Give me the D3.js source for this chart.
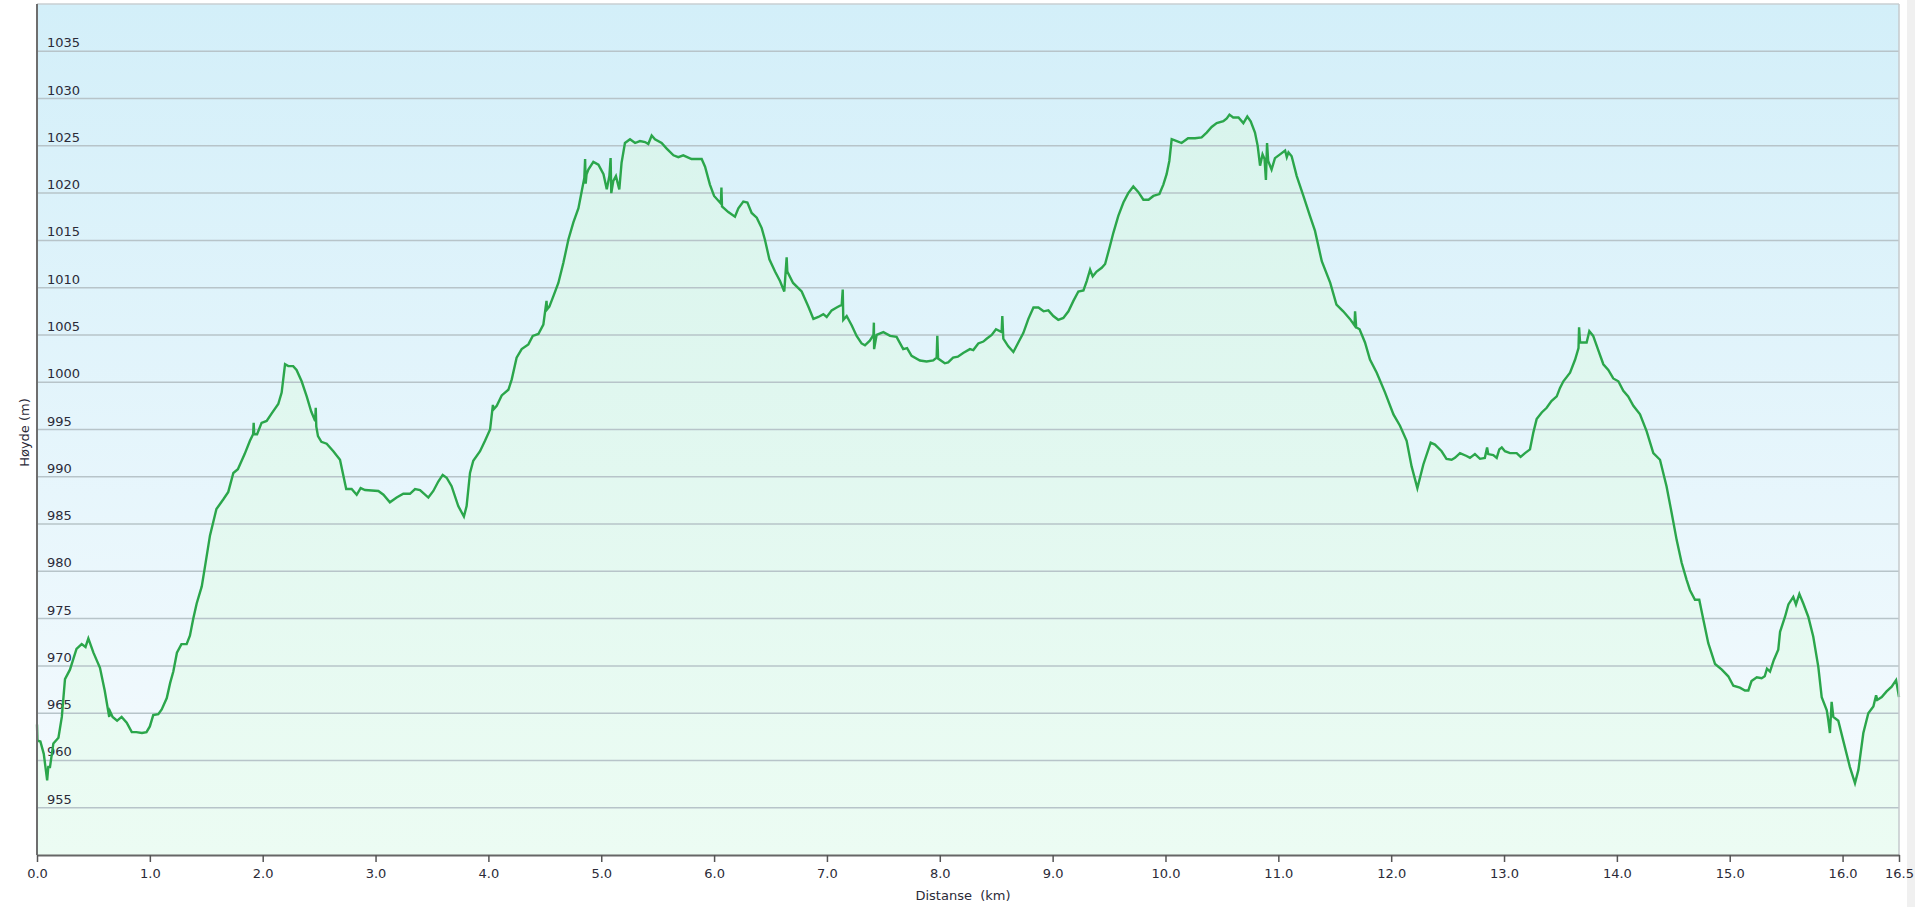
<!DOCTYPE html>
<html>
<head>
<meta charset="utf-8">
<script src="https://cdn.jsdelivr.net/npm/d3@7/dist/d3.min.js"></script>
<style>
  html, body { margin: 0; padding: 0; background: #ffffff; }
  svg { display: block; }
  text { font-family: "DejaVu Sans", Verdana, sans-serif; }
</style>
</head>
<body>
<svg id="chart" width="1915" height="907"></svg>
<script>
// ---- DATA ----
const distKm = [
  0.000, 0.004, 0.030, 0.060, 0.090, 0.100, 0.115, 0.145, 0.190, 0.220,
  0.248, 0.292, 0.350, 0.396, 0.430, 0.455, 0.500, 0.558, 0.600, 0.640,
  0.647, 0.670, 0.710, 0.750, 0.795, 0.840, 0.880, 0.930, 0.970, 1.000,
  1.030, 1.075, 1.105, 1.150, 1.180, 1.208, 1.240, 1.280, 1.326, 1.355,
  1.385, 1.415, 1.460, 1.490, 1.533, 1.590, 1.650, 1.695, 1.740, 1.780,
  1.840, 1.887, 1.915, 1.920, 1.925, 1.950, 1.990, 2.035, 2.080, 2.138,
  2.168, 2.198, 2.227, 2.270, 2.300, 2.345, 2.390, 2.430, 2.465, 2.470,
  2.475, 2.490, 2.520, 2.567, 2.626, 2.685, 2.740, 2.788, 2.833, 2.868,
  2.907, 3.025, 3.070, 3.127, 3.187, 3.246, 3.305, 3.350, 3.394, 3.468,
  3.512, 3.556, 3.595, 3.630, 3.674, 3.733, 3.783, 3.807, 3.837, 3.866,
  3.926, 3.970, 4.015, 4.040, 4.044, 4.074, 4.118, 4.177, 4.207, 4.250,
  4.295, 4.354, 4.393, 4.443, 4.487, 4.515, 4.520, 4.540, 4.576, 4.620,
  4.664, 4.709, 4.753, 4.798, 4.827, 4.850, 4.857, 4.862, 4.870, 4.886,
  4.930, 4.975, 5.020, 5.049, 5.072, 5.083, 5.089, 5.107, 5.130, 5.160,
  5.180, 5.210, 5.255, 5.300, 5.343, 5.388, 5.417, 5.447, 5.476, 5.535,
  5.580, 5.640, 5.683, 5.727, 5.800, 5.845, 5.890, 5.920, 5.963, 6.000,
  6.060, 6.065, 6.070, 6.126, 6.185, 6.215, 6.259, 6.295, 6.333, 6.378,
  6.422, 6.450, 6.490, 6.540, 6.584, 6.622, 6.643, 6.649, 6.700, 6.776,
  6.835, 6.880, 6.924, 6.968, 6.998, 7.042, 7.086, 7.131, 7.140, 7.145,
  7.175, 7.220, 7.263, 7.307, 7.337, 7.380, 7.412, 7.416, 7.418, 7.440,
  7.500, 7.560, 7.617, 7.676, 7.710, 7.750, 7.824, 7.883, 7.942, 7.972,
  7.978, 7.985, 8.044, 8.074, 8.118, 8.160, 8.207, 8.267, 8.297, 8.341,
  8.386, 8.415, 8.460, 8.498, 8.548, 8.554, 8.563, 8.607, 8.652, 8.696,
  8.740, 8.785, 8.830, 8.874, 8.920, 8.962, 9.006, 9.050, 9.095, 9.140,
  9.184, 9.228, 9.273, 9.302, 9.332, 9.355, 9.390, 9.435, 9.465, 9.508,
  9.538, 9.582, 9.627, 9.670, 9.715, 9.760, 9.804, 9.850, 9.893, 9.946,
  9.981, 10.010, 10.034, 10.055, 10.100, 10.143, 10.200, 10.262, 10.320, 10.365,
  10.409, 10.454, 10.513, 10.543, 10.567, 10.600, 10.647, 10.690, 10.725, 10.755,
  10.793, 10.817, 10.838, 10.860, 10.878, 10.890, 10.900, 10.910, 10.940, 10.970,
  11.015, 11.060, 11.075, 11.090, 11.118, 11.163, 11.222, 11.280, 11.325, 11.385,
  11.460, 11.515, 11.575, 11.634, 11.675, 11.680, 11.690, 11.720, 11.768, 11.812,
  11.872, 11.946, 12.020, 12.078, 12.137, 12.181, 12.232, 12.285, 12.350, 12.388,
  12.447, 12.490, 12.536, 12.565, 12.610, 12.668, 12.698, 12.742, 12.787, 12.830,
  12.850, 12.860, 12.905, 12.935, 12.958, 12.980, 13.008, 13.053, 13.112, 13.147,
  13.186, 13.230, 13.260, 13.289, 13.334, 13.378, 13.420, 13.467, 13.496, 13.526,
  13.585, 13.630, 13.660, 13.665, 13.674, 13.718, 13.732, 13.756, 13.790, 13.835,
  13.880, 13.924, 13.968, 14.013, 14.057, 14.100, 14.146, 14.205, 14.264, 14.323,
  14.382, 14.440, 14.485, 14.530, 14.574, 14.618, 14.648, 14.692, 14.730, 14.766,
  14.810, 14.870, 14.930, 14.987, 15.032, 15.090, 15.135, 15.165, 15.193, 15.240,
  15.283, 15.310, 15.330, 15.357, 15.390, 15.430, 15.446, 15.490, 15.520, 15.563,
  15.587, 15.617, 15.652, 15.696, 15.740, 15.785, 15.815, 15.860, 15.873, 15.888,
  15.903, 15.918, 15.962, 16.006, 16.065, 16.110, 16.140, 16.184, 16.228, 16.273,
  16.297, 16.308, 16.347, 16.390, 16.435, 16.474, 16.500
];
const elevM = [
  963.8, 962.1, 962.0, 960.7, 957.9, 959.3, 959.3, 961.8, 962.4, 964.6,
  968.6, 969.6, 971.8, 972.3, 972.0, 972.9, 971.4, 969.8, 967.4, 964.6,
  965.2, 964.6, 964.2, 964.6, 964.0, 963.0, 963.0, 962.9, 963.0, 963.6,
  964.8, 964.9, 965.4, 966.6, 968.2, 969.4, 971.4, 972.3, 972.3, 973.2,
  975.0, 976.6, 978.4, 980.6, 983.8, 986.6, 987.6, 988.4, 990.4, 990.8,
  992.4, 993.8, 994.5, 995.7, 994.5, 994.5, 995.7, 995.9, 996.7, 997.7,
  998.9, 1001.9, 1001.7, 1001.7, 1001.3, 1000.1, 998.5, 996.9, 995.9, 997.3,
  995.3, 994.3, 993.7, 993.5, 992.7, 991.8, 988.7, 988.7, 988.1, 988.8,
  988.6, 988.5, 988.1, 987.3, 987.8, 988.2, 988.2, 988.7, 988.6, 987.8,
  988.5, 989.5, 990.2, 989.9, 989.0, 986.9, 985.8, 986.9, 990.4, 991.7,
  992.7, 993.8, 995.0, 997.6, 997.1, 997.5, 998.6, 999.2, 1000.3, 1002.6,
  1003.5, 1004.0, 1004.9, 1005.1, 1006.1, 1008.6, 1007.7, 1008.0, 1009.1, 1010.5,
  1012.6, 1015.1, 1016.9, 1018.4, 1020.2, 1021.6, 1023.6, 1021.0, 1022.0, 1022.5,
  1023.3, 1023.0, 1022.0, 1020.4, 1021.8, 1023.7, 1020.0, 1021.3, 1021.8, 1020.4,
  1023.2, 1025.3, 1025.7, 1025.3, 1025.5, 1025.4, 1025.2, 1026.1, 1025.7, 1025.3,
  1024.7, 1024.0, 1023.8, 1024.0, 1023.6, 1023.6, 1023.6, 1022.8, 1020.9, 1019.7,
  1018.9, 1020.6, 1018.6, 1018.0, 1017.5, 1018.4, 1019.1, 1019.0, 1017.9, 1017.4,
  1016.3, 1015.1, 1013.0, 1011.7, 1010.7, 1009.6, 1013.2, 1011.7, 1010.5, 1009.6,
  1008.0, 1006.7, 1006.9, 1007.2, 1006.9, 1007.6, 1007.9, 1008.2, 1009.8, 1006.6,
  1007.0, 1006.0, 1004.9, 1004.1, 1003.9, 1004.4, 1005.0, 1006.3, 1003.5, 1005.0,
  1005.3, 1004.9, 1004.8, 1003.5, 1003.6, 1002.8, 1002.3, 1002.2, 1002.3, 1002.6,
  1004.9, 1002.5, 1002.0, 1002.1, 1002.6, 1002.7, 1003.1, 1003.5, 1003.4, 1004.1,
  1004.3, 1004.6, 1005.0, 1005.6, 1005.3, 1007.0, 1004.6, 1003.8, 1003.2, 1004.2,
  1005.2, 1006.7, 1007.9, 1007.9, 1007.5, 1007.6, 1007.0, 1006.6, 1006.8, 1007.5,
  1008.6, 1009.6, 1009.7, 1010.7, 1011.9, 1011.2, 1011.7, 1012.1, 1012.5, 1014.4,
  1015.8, 1017.6, 1019.0, 1020.0, 1020.7, 1020.1, 1019.3, 1019.3, 1019.7, 1019.9,
  1020.9, 1022.0, 1023.4, 1025.7, 1025.5, 1025.3, 1025.8, 1025.8, 1025.9, 1026.4,
  1027.0, 1027.4, 1027.6, 1027.9, 1028.3, 1028.0, 1028.0, 1027.4, 1028.1, 1027.6,
  1026.4, 1025.0, 1022.9, 1024.1, 1023.6, 1021.4, 1025.3, 1023.4, 1022.5, 1023.7,
  1024.1, 1024.5, 1023.8, 1024.3, 1023.9, 1021.8, 1019.7, 1017.6, 1016.0, 1012.8,
  1010.5, 1008.2, 1007.5, 1006.7, 1006.0, 1007.5, 1005.8, 1005.6, 1004.2, 1002.4,
  1001.0, 998.9, 996.6, 995.4, 993.8, 991.1, 988.8, 991.3, 993.6, 993.4,
  992.7, 991.9, 991.8, 992.0, 992.5, 992.2, 992.0, 992.4, 991.9, 992.0,
  993.1, 992.4, 992.3, 992.0, 992.9, 993.1, 992.7, 992.5, 992.5, 992.1,
  992.5, 992.9, 994.7, 996.1, 996.8, 997.3, 998.0, 998.5, 999.4, 1000.1,
  1001.0, 1002.4, 1003.6, 1005.8, 1004.2, 1004.2, 1004.2, 1005.4, 1004.9, 1003.4,
  1001.9, 1001.3, 1000.4, 1000.1, 999.1, 998.5, 997.5, 996.6, 994.8, 992.5,
  991.8, 989.0, 986.2, 983.3, 980.9, 979.1, 978.0, 977.0, 977.0, 974.9,
  972.4, 970.2, 969.6, 968.9, 967.9, 967.7, 967.4, 967.4, 968.4, 968.8,
  968.7, 968.9, 969.7, 969.4, 970.6, 971.7, 973.6, 975.2, 976.5, 977.3,
  976.5, 977.6, 976.6, 975.2, 973.1, 969.9, 966.7, 965.3, 964.3, 962.9,
  966.2, 964.6, 964.2, 962.1, 959.3, 957.6, 959.0, 962.9, 965.0, 965.7,
  966.9, 966.4, 966.7, 967.3, 967.8, 968.5, 966.7
];
const xTickValues = [0, 1, 2, 3, 4, 5, 6, 7, 8, 9, 10, 11, 12, 13, 14, 15, 16, 16.5];
const yTickValues = [955, 960, 965, 970, 975, 980, 985, 990, 995, 1000, 1005, 1010, 1015, 1020, 1025, 1030, 1035];
const xDomain = [0, 16.5];
const yDomain = [950, 1040];
const xTitle = "Distanse\u00a0\u00a0(km)";
const yTitle = "Høyde (m)";

// ---- LAYOUT ----
const L = 37, R = 1899, T = 4, B = 855;
const svg = d3.select("#chart");
const x = d3.scaleLinear().domain(xDomain).range([L, R]);
const y = d3.scaleLinear().domain(yDomain).range([B, T]);
const data = distKm.map((d, i) => ({ d, e: elevM[i] }));

const defs = svg.append("defs");
const bg = defs.append("linearGradient").attr("id", "bg")
  .attr("gradientUnits", "userSpaceOnUse").attr("x1", 0).attr("y1", T).attr("x2", 0).attr("y2", B);
bg.append("stop").attr("offset", "0%").attr("stop-color", "#d3eff9");
bg.append("stop").attr("offset", "100%").attr("stop-color", "#f6fbfe");
const ag = defs.append("linearGradient").attr("id", "ag")
  .attr("gradientUnits", "userSpaceOnUse").attr("x1", 0).attr("y1", T).attr("x2", 0).attr("y2", B);
ag.append("stop").attr("offset", "0%").attr("stop-color", "#d6f3ec");
ag.append("stop").attr("offset", "100%").attr("stop-color", "#ecfcf3");

// right grey strip
svg.append("rect").attr("x", 1907).attr("y", 0).attr("width", 8).attr("height", 907).attr("fill", "#f0f0f0");

// plot background
svg.append("rect").attr("x", L).attr("y", T).attr("width", R - L).attr("height", B - T).attr("fill", "url(#bg)");

// area
const area = d3.area().x(p => x(p.d)).y0(y(yDomain[0])).y1(p => y(p.e));
svg.append("path").datum(data).attr("d", area).attr("fill", "url(#ag)");

// gridlines
svg.append("g").selectAll("line").data(yTickValues).join("line")
  .attr("x1", L).attr("x2", R)
  .attr("y1", v => y(v)).attr("y2", v => y(v))
  .attr("stroke", "#b7c4c9").attr("stroke-width", 1.5);

// y labels inside plot
svg.append("g").selectAll("text").data(yTickValues).join("text")
  .attr("x", 47).attr("y", v => y(v) - 4)
  .attr("font-size", 13).attr("fill", "#2b2b38")
  .text(v => v);

// line
const line = d3.line().x(p => x(p.d)).y(p => y(p.e));
svg.append("path").datum(data).attr("d", line)
  .attr("fill", "none").attr("stroke", "#2ba64b").attr("stroke-width", 2.4)
  .attr("stroke-linejoin", "miter").attr("stroke-miterlimit", 4);

// borders
svg.append("line").attr("x1", L).attr("x2", R).attr("y1", T).attr("y2", T)
  .attr("stroke", "#c9cfd2").attr("stroke-width", 1.5);
svg.append("line").attr("x1", R).attr("x2", R).attr("y1", T).attr("y2", B)
  .attr("stroke", "#c4cacd").attr("stroke-width", 1.5);
svg.append("line").attr("x1", L).attr("x2", L).attr("y1", T).attr("y2", B)
  .attr("stroke", "#6e6e6e").attr("stroke-width", 2);

// x axis
const xAxis = d3.axisBottom(x).tickValues(xTickValues).tickFormat(d3.format(".1f"))
  .tickSize(7).tickSizeOuter(0).tickPadding(7);
const gx = svg.append("g").attr("transform", `translate(0,${B})`).call(xAxis);
gx.select(".domain").attr("stroke", "#666").attr("stroke-width", 2);
gx.selectAll(".tick line").attr("stroke", "#555").attr("stroke-width", 1.5);
gx.selectAll(".tick text").attr("font-size", 13).attr("fill", "#2b2b38")
  .attr("font-family", "'DejaVu Sans', Verdana, sans-serif");

// titles
svg.append("text").attr("x", (L + R) / 2 - 5).attr("y", 900)
  .attr("text-anchor", "middle").attr("font-size", 13).attr("fill", "#2b2b38").text(xTitle);
svg.append("text").attr("transform", `translate(29,${(T + B) / 2 + 3}) rotate(-90)`)
  .attr("text-anchor", "middle").attr("font-size", 13).attr("fill", "#2b2b38").text(yTitle);
</script>
</body>
</html>
